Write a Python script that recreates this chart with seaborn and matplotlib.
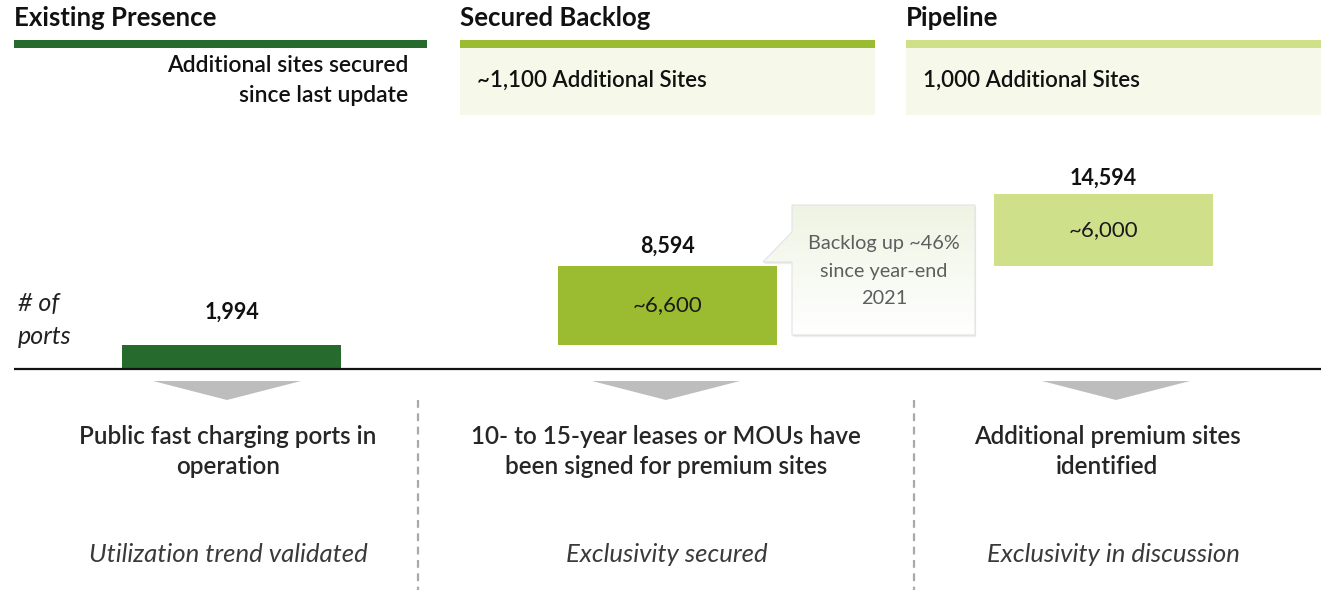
import numpy as np
import pandas as pd
import matplotlib.pyplot as plt
import seaborn as sns
from matplotlib.patches import Polygon, Rectangle
from matplotlib.colors import LinearSegmentedColormap

##### data #####
stages = ['Existing Presence', 'Secured Backlog', 'Pipeline']
added_ports = [1994, 6600, 6000]
total_ports = [1994, 8594, 14594]
inner_labels = ['', '~6,600', '~6,000']
total_labels = ['1,994', '8,594', '14,594']
header_notes = [['Additional sites secured', 'since last update'],
                ['~1,100 Additional Sites'],
                ['1,000 Additional Sites']]
descriptions = [['Public fast charging ports in', 'operation'],
                ['10- to 15-year leases or MOUs have', 'been signed for premium sites'],
                ['Additional premium sites', 'identified']]
statuses = ['Utilization trend validated', 'Exclusivity secured', 'Exclusivity in discussion']
callout = ['Backlog up ~46%', 'since year-end', '2021']

##### style #####
colors = ['#276A2D', '#9BBB30', '#CFE08B']
panel_fill = '#F6F9EA'
W, H = 1328, 590

sns.set_theme(style='white')
plt.rcParams['font.family'] = ['Lato', 'DejaVu Sans']

df = pd.DataFrame({'stage': stages, 'added': added_ports,
                   'base': [t - a for t, a in zip(total_ports, added_ports)]})

fig = plt.figure(figsize=(W / 100, H / 100), dpi=100)

# bar axes spans whole figure, limits chosen so baseline sits at y=369px
ax = fig.add_axes([0, 0, 1, 1])
sns.barplot(data=df, x='stage', y='added', bottom=df['base'].values, width=0.502,
            color=colors[0], saturation=1, errorbar=None, ax=ax)
for patch, c in zip(ax.patches, colors):
    patch.set_facecolor(c)
    patch.set_edgecolor('none')

px_per_port = 175 / 14594
ax.set_xlim(-231.5 / 436, (W - 231.5) / 436)
ax.set_ylim(-(H - 369) / px_per_port, 369 / px_per_port)
ax.axis('off')

bars = ax.containers[0]
ax.bar_label(bars, labels=inner_labels, label_type='center', fontsize=16, color='#1a1a1a')
offsets = [16, 7, 4]
for i, (tot, lab) in enumerate(zip(total_ports, total_labels)):
    ax.annotate(lab, (i, tot), xytext=(0, offsets[i]), textcoords='offset points',
                ha='center', va='bottom', fontsize=15.5, fontweight='bold', color='#111111')

##### decorations in pixel coordinates #####
ax2 = fig.add_axes([0, 0, 1, 1])
ax2.patch.set_alpha(0)

x0s = [14, 460, 906]
x1s = [427, 875, 1321]
for i, stage in enumerate(stages):
    ax2.text(x0s[i], 18, stage, fontsize=18.5, fontweight='bold', va='center', color='#111111')
    ax2.add_patch(Rectangle((x0s[i], 40), x1s[i] - x0s[i], 8, color=colors[i], lw=0))
    if i == 0:
        for j, line in enumerate(header_notes[i]):
            ax2.text(408, 65 + 31 * j, line, fontsize=16.5, fontweight='semibold',
                     ha='right', va='center', color='#111111')
    else:
        ax2.add_patch(Rectangle((x0s[i], 48), x1s[i] - x0s[i], 67, color=panel_fill, lw=0))
        ax2.text(x0s[i] + 17, 80, header_notes[i][0], fontsize=16, fontweight='semibold',
                 va='center', color='#111111')

ax2.text(18, 303, '# of', fontsize=18, style='italic', va='center', color='#222222')
ax2.text(18, 336, 'ports', fontsize=18, style='italic', va='center', color='#222222')

# baseline
ax2.plot([14, 1321], [369, 369], color='#111111', lw=1.6, solid_capstyle='butt')

# down arrows
arrow_x = [227, 666, 1116]
for cx in arrow_x:
    ax2.add_patch(Polygon([(cx - 74, 381), (cx + 74, 381), (cx, 400)], closed=True,
                          color='#BDBDBD', lw=0))

# dashed separators
for sx in [418, 914]:
    ax2.plot([sx, sx], [400, 590], color='#A9A9A9', lw=1.6, ls=(0, (3.5, 2.5)))

desc_x = [228, 666, 1107]
status_x = [228, 667, 1113]
for i in range(3):
    for j, line in enumerate(descriptions[i]):
        ax2.text(desc_x[i], 437 + 30 * j, line, fontsize=17.5, fontweight='semibold',
                 ha='center', va='center', color='#262626')
    ax2.text(status_x[i], 555, statuses[i], fontsize=18.5, style='italic', fontweight='normal',
             ha='center', va='center', color='#3a3a3a')

# callout bubble
pts = [(792, 205), (975, 205), (975, 335), (792, 335), (792, 262), (763, 262), (792, 232)]
for k, a in enumerate([0.05, 0.07, 0.09]):
    d = 4 - k
    ax2.add_patch(Polygon([(x + d * 0.3, y + d * 0.6) for x, y in pts], closed=True,
                          color='#808080', alpha=a, lw=0))
bubble = Polygon(pts, closed=True, facecolor='none', edgecolor='#E3E3E3', lw=0.8, zorder=3)
ax2.add_patch(bubble)
grad = np.linspace(0, 1, 200).reshape(-1, 1)
cmap = LinearSegmentedColormap.from_list('bub', ['#EEF4E3', '#FFFFFF'])
img = ax2.imshow(grad, cmap=cmap, extent=(763, 975, 335, 205), aspect='auto', zorder=2)
img.set_clip_path(bubble)
for j, line in enumerate(callout):
    ax2.text(884, 243 + 28 * j, line, fontsize=14.3, ha='center', va='center',
             color='#5E5E5E', zorder=4)

ax2.set_xlim(0, W)
ax2.set_ylim(H, 0)
ax2.axis('off')

fig.savefig('out.png', dpi=100)
